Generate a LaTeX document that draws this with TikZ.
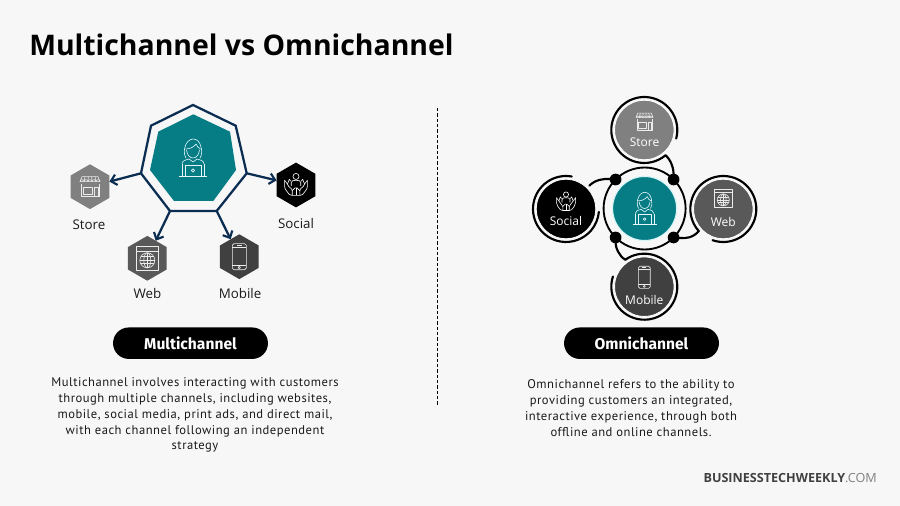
\documentclass[tikz,border=0pt]{standalone}
\usepackage{fontspec}
\setmainfont{Open Sans}
\newfontfamily\bodyf[LetterSpace=4]{PT Sans}
\newfontfamily\pillf{Fira Sans}
\usetikzlibrary{shapes.geometric,arrows.meta,calc}
\definecolor{pagebg}{HTML}{F7F7F7}
\definecolor{tealc}{HTML}{067C85}
\definecolor{navyc}{HTML}{0B2D52}
\definecolor{storec}{HTML}{808080}
\definecolor{webc}{HTML}{595959}
\definecolor{mobc}{HTML}{404040}
\definecolor{inkc}{HTML}{1A1A1A}
\definecolor{halo}{HTML}{D5F5F7}
\tikzset{
  x=0.75pt,y=-0.75pt,
  hexn/.style={regular polygon,regular polygon sides=6,inner sep=0pt,outer sep=0pt,minimum size=33.6pt,fill=#1},
  lab/.style={font=\fontsize{10}{12}\selectfont,text=inkc,inner sep=0pt},
  wlab/.style={font=\fontsize{9}{11}\selectfont,text=white,inner sep=0pt},
  arrowl/.style={draw=navyc,line width=1.7pt,-{Straight Barb[length=4.2pt,width=8pt,line width=1.6pt]}},
  ringn/.style={circle,inner sep=0pt,outer sep=0pt,minimum size=49.5pt},
  disc/.style={circle,inner sep=0pt,outer sep=0pt,minimum size=44.6pt,fill=#1,draw=white,line width=0.6pt},
  ringl/.style={draw=black,line width=1.6pt,line cap=round},
  dotn/.style={circle,fill=black,inner sep=0pt,outer sep=0pt,minimum size=8.8pt},
  pill/.style={rounded corners=11.8pt,fill=black,text=white,minimum width=116.2pt,minimum height=23.6pt,inner sep=0pt,font=\pillf\bfseries\fontsize{11.7}{13}\selectfont},
  bodyt/.style={font=\bodyf\fontsize{9.45}{12}\selectfont,text=inkc,align=center,inner sep=0pt},
  ic/.style={draw=#1,line width=0.45pt,line join=round},
  storeicon/.pic={
    \draw[ic=white!85!gray] (-8,-10)--(8,-10)--(10,-5)--(-10,-5)--cycle;
    \draw[ic=white!85!gray] (-10,-5) arc[start angle=180,end angle=360,radius=2] arc[start angle=180,end angle=360,radius=2] arc[start angle=180,end angle=360,radius=2] arc[start angle=180,end angle=360,radius=2] arc[start angle=180,end angle=360,radius=2];
    \draw[ic=white!85!gray] (-6,-5)--(-5,-10) (-2,-5)--(-1.7,-10) (2,-5)--(1.7,-10) (6,-5)--(5,-10);
    \draw[ic=white!85!gray] (-9,-3)--(-9,10)--(9,10)--(9,-3);
    \draw[ic=white!85!gray] (-7,1) rectangle (2,8);
    \draw[ic=white!85!gray] (4,1) rectangle (8,10);
  },
  webicon/.pic={
    \draw[ic=white!85!gray] (-11,-11.5) rectangle (11,11.5);
    \draw[ic=white!85!gray] (-11,-7)--(11,-7);
    \draw[ic=white!85!gray] (0,2) circle[radius=7.5];
    \draw[ic=white!85!gray] (0,2) ellipse[x radius=3.5,y radius=7.5];
    \draw[ic=white!85!gray] (0,-5.5)--(0,9.5) (-7.5,2)--(7.5,2) (-6.5,-1.5)--(6.5,-1.5) (-6.5,5.5)--(6.5,5.5);
  },
  phoneicon/.pic={
    \draw[ic=white!85!gray,rounded corners=1.2pt] (-7,-13) rectangle (7,13);
    \draw[ic=white!85!gray] (-7,-9.5)--(7,-9.5) (-7,8.5)--(7,8.5) (-2.5,-11.2)--(2.5,-11.2);
    \draw[ic=white!85!gray] (0,10.8) circle[radius=1.2];
  },
  socialicon/.pic={
    \draw[ic=white] (0,-9) circle[radius=3.2];
    \draw[ic=white] (-5,1)--(-5,-2.5) .. controls (-5,-4.5) and (-3,-5) .. (0,-5) .. controls (3,-5) and (5,-4.5) .. (5,-2.5)--(5,1);
    \draw[ic=white] (-4,11)--(-4,6) .. controls (-4,3) and (-8,3) .. (-9,-1)--(-7,-6)--(-5.5,-4) (-4,11)--(-4,8) (4,11)--(4,6) .. controls (4,3) and (8,3) .. (9,-1)--(7,-6)--(5.5,-4);
    \draw[ic=white] (-12,-5)--(-12,1) .. controls (-12,5) and (-9,7) .. (-7,10)--(-4,11)--(4,11)--(7,10) .. controls (9,7) and (12,5) .. (12,1)--(12,-5)--(9,-1);
    \draw[ic=white] (-12,-5)--(-9,-1);
    \draw[ic=white] (-4,6) -- (-1,3) -- (1,3) -- (4,6);
    \draw[ic=white] (0,3)--(0,11);
  },
  personicon/.pic={
    \draw[ic=white!90!cyan] (-7,0) .. controls (-9,-3) and (-9,-8) .. (-8,-11) .. controls (-7,-16) and (-3,-19) .. (0,-19) .. controls (4,-19) and (7,-16) .. (8,-11) .. controls (9,-7) and (9,-3) .. (7,0);
    \draw[ic=white!90!cyan] (-7.5,-9) .. controls (-3,-9) and (1,-11) .. (3,-14) .. controls (4,-11) and (6,-10) .. (7.5,-9);
    \draw[ic=white!90!cyan] (-6.5,-8) .. controls (-6,-3) and (-3,0) .. (0,0) .. controls (3,0) and (6,-3) .. (6.5,-8);
    \draw[ic=white!90!cyan] (-11,6) .. controls (-11,3) and (-8,2) .. (-4,1) -- (0,4) -- (4,1) .. controls (8,2) and (11,3) .. (11,6);
    \draw[ic=white!90!cyan] (-11,18)--(-11,6) (11,18)--(11,6);
    \draw[ic=white!90!cyan] (-8,18)--(-8,7)--(8,7)--(8,18);
    \draw[ic=white!90!cyan] (-14,18.5)--(14,18.5);
    \draw[ic=white!90!cyan] (0,12.5) circle[radius=1.6];
  }
}
\begin{document}
\begin{tikzpicture}
\path[use as bounding box,fill=pagebg] (0,0) rectangle (900,506);
% title
\node[anchor=west,inner sep=0pt,font=\bfseries\fontsize{21.3}{26}\selectfont,text=black] (title) at (29,45) {Multichannel vs Omnichannel};
% divider
\coordinate (divt) at (437,108);
\coordinate (divb) at (437,405);
\draw[black,line width=0.75pt,dash pattern=on 2.6pt off 1.4pt] (divt)--(divb);
% heptagon
\coordinate (h1) at (193,105);
\coordinate (h2) at (235.7,125.7);
\coordinate (h3) at (246.7,173.3);
\coordinate (h4) at (216.7,211);
\coordinate (h5) at (170,211);
\coordinate (h6) at (141,173.3);
\coordinate (h7) at (151,125.7);
\fill[tealc] (193.3,114.3)--(230,131.7)--(236,170)--(213.3,201)--(174,201)--(150,170)--(158.3,131.7)--cycle;
\draw[navyc,line width=1.7pt,line join=miter] (h1)--(h2)--(h3)--(h4)--(h5)--(h6)--(h7)--cycle;
\pic at (193,158) {personicon};
% hexagons
\node[hexn=storec,shape border rotate=30] (mstore) at (90,186.7) {};
\node[hexn=black,shape border rotate=30] (msocial) at (296,185) {};
\node[hexn=webc,shape border rotate=30] (mweb) at (147.3,258.3) {};
\node[hexn=mobc,shape border rotate=30] (mmobile) at (239.3,256.7) {};
\pic at (90,186.7) [scale=1] {storeicon};
\pic at (296,185) [scale=0.95] {socialicon};
\pic at (147.3,258.3) {webicon};
\pic at (239.3,256.7) {phoneicon};
\draw[arrowl] (h6)--(mstore);
\draw[arrowl] (h3)--(msocial);
\draw[arrowl] (h5)--(mweb);
\draw[arrowl] (h4)--(mmobile);
\node[lab] (lstore) at (89,225) {Store};
\node[lab] (lsocial) at (296,223.5) {Social};
\node[lab] (lweb) at (147.5,293.5) {Web};
\node[lab] (lmobile) at (240,293.5) {Mobile};
% omni hub
\node[circle,inner sep=0pt,outer sep=0pt,minimum size=61.5pt,draw=black,line width=1.4pt] (hub) at (644.6,208.5) {};
\node[circle,inner sep=0pt,outer sep=0pt,minimum size=48pt,fill=tealc,draw=halo,line width=0.8pt] (core) at (644.6,208.5) {};
\pic at (644.6,208.5) [scale=0.85] {personicon};
\node[dotn] (d1) at (hub.45) {};
\node[dotn] (d2) at (hub.135) {};
\node[dotn] (d3) at (hub.225) {};
\node[dotn] (d4) at (hub.315) {};
% satellites
\node[ringn] (ostore) at (644.3,130) {};
\node[ringn] (osocial) at (566,209) {};
\node[ringn] (oweb) at (723.3,209) {};
\node[ringn] (omobile) at (644.3,286.7) {};
\node[disc=storec] (dstore) at (ostore) {};
\node[disc=black] (dsocial) at (osocial) {};
\node[disc=webc] (dweb) at (oweb) {};
\node[disc=mobc] (dmobile) at (omobile) {};
\draw[ringl] (ostore.-15) arc[start angle=15,end angle=-310,radius=33];
\draw[ringl] (osocial.80) arc[start angle=-80,end angle=-355,radius=33];
\draw[ringl] (oweb.251) arc[start angle=-251,end angle=-582,radius=33];
\draw[ringl] (omobile.125) arc[start angle=-125,end angle=198,radius=33];
\draw[ringl] (ostore.-50) .. controls +(6,5) and +(0,-10) .. (d1);
\draw[ringl] (osocial.45) .. controls +(6,-6) and +(-12,-1) .. (d2);
\draw[ringl] (oweb.222) .. controls +(-6,7) and +(12,1) .. (d4);
\draw[ringl] (omobile.125) .. controls +(-6,-3) and +(0,10) .. (d3);
\pic at (644.5,121.7) [scale=0.85] {storeicon};
\pic at (566,201.7) [scale=0.8] {socialicon};
\pic at (723.3,198.3) [scale=0.8] {webicon};
\pic at (644.3,277.3) [scale=0.85] {phoneicon};
\node[wlab] (tstore) at (644.5,142.7) {Store};
\node[wlab] (tsocial) at (566,220.7) {Social};
\node[wlab] (tweb) at (723.3,221.7) {Web};
\node[wlab] (tmobile) at (644.3,300) {Mobile};
% pills
\node[pill] (pm) at (190.5,343.2) {Multichannel};
\node[pill] (po) at (641.5,343.2) {Omnichannel};
% body
\node[bodyt] (bm) at (195,383) {Multichannel involves interacting with customers};
\node[bodyt] at (195,399) {through multiple channels, including websites,};
\node[bodyt] at (195,415) {mobile, social media, print ads, and direct mail,};
\node[bodyt] at (195,431) {with each channel following an independent};
\node[bodyt] at (195,447) {strategy};
\node[bodyt] (bo) at (631,385) {Omnichannel refers to the ability to};
\node[bodyt] at (631,401) {providing customers an integrated,};
\node[bodyt] at (631,417) {interactive experience, through both};
\node[bodyt] at (631,432.5) {offline and online channels.};
% footer
\node[anchor=east,inner sep=0pt,font=\fontsize{9.45}{12}\selectfont] (foot) at (877,478) {\textcolor{mobc}{\textbf{BUSINESSTECHWEEKLY}}\textcolor{storec}{.COM}};
\end{tikzpicture}
\end{document}
